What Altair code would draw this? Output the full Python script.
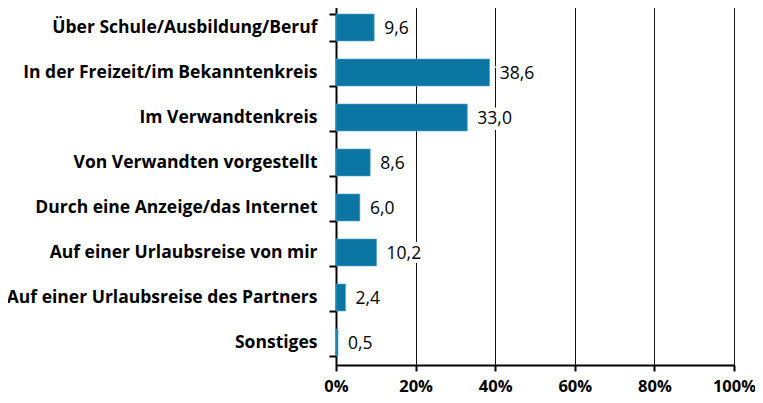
import altair as alt
import pandas as pd

categories = [
    "Über Schule/Ausbildung/Beruf",
    "In der Freizeit/im Bekanntenkreis",
    "Im Verwandtenkreis",
    "Von Verwandten vorgestellt",
    "Durch eine Anzeige/das Internet",
    "Auf einer Urlaubsreise von mir",
    "Auf einer Urlaubsreise des Partners",
    "Sonstiges",
]
values = [9.6, 38.6, 33.0, 8.6, 6.0, 10.2, 2.4, 0.5]
x_ticks = [0, 20, 40, 60, 80, 100]

df = pd.DataFrame({"cat": categories, "val": values})
df["label"] = [f"{v:.1f}".replace(".", ",") for v in values]

FONT = "Open Sans"
BAR = "#0b76a4"

y_enc = alt.Y(
    "cat:N",
    sort=categories,
    title=None,
    scale=alt.Scale(paddingInner=0.4, paddingOuter=0.2),
    axis=alt.Axis(
        labelFont=FONT, labelFontSize=17.5, labelFontWeight="bold", labelColor="#000",
        labelPadding=12, tickSize=7, tickColor="#000", tickWidth=2, tickBand="extent",
        domainColor="#000", domainWidth=2, grid=False, labelLimit=400,
    ),
)
x_enc = alt.X(
    "val:Q",
    title=None,
    scale=alt.Scale(domain=[0, 100], nice=False),
    axis=alt.Axis(
        values=x_ticks, labelExpr="datum.value + '%'",
        labelFont=FONT, labelFontSize=16.5, labelFontWeight="bold", labelColor="#000",
        labelPadding=7, tickSize=6, tickColor="#000", tickWidth=2,
        labelFlush=False, labelOverlap=False,
        domainColor="#000", domainWidth=2,
        grid=True, gridColor="#111", gridWidth=1,
    ),
)

bars = alt.Chart(df).mark_bar(color=BAR, stroke="#5aa6c8", strokeWidth=0.6).encode(y=y_enc, x=x_enc)
halo = alt.Chart(df).mark_text(
    align="left", baseline="middle", dx=10, dy=1, font=FONT, fontSize=17.5,
    color="white", stroke="white", strokeWidth=8
).encode(y=alt.Y("cat:N", sort=categories), x="val:Q", text="label:N")
text = alt.Chart(df).mark_text(
    align="left", baseline="middle", dx=10, dy=1, font=FONT, fontSize=17.5, color="#000"
).encode(y=alt.Y("cat:N", sort=categories), x="val:Q", text="label:N")

chart = (bars + halo + text).properties(
    width=398, height=360,
    autosize=alt.AutoSizeParams(type="none"),
    padding={"left": 328, "top": -3, "right": 21, "bottom": 30},
).configure_view(stroke=None)

chart.save("out.html", embed_options={"renderer": "svg", "actions": False})
